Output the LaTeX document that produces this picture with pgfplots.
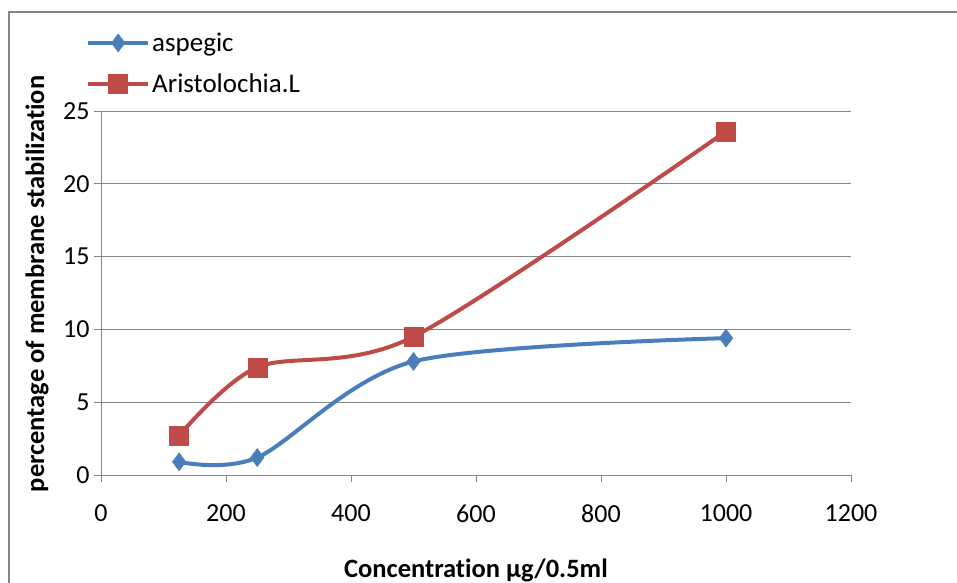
\documentclass[border=0pt]{standalone}
\usepackage{pgfplots}
\pgfplotsset{compat=1.18}
\usepackage{fontspec}
\setmainfont{Carlito}[Ligatures=NoCommon]
\definecolor{ablue}{HTML}{4A7EBB}
\definecolor{ared}{HTML}{BE4B48}
\definecolor{gridc}{HTML}{868686}
\begin{document}
\begin{tikzpicture}[x=1pt,y=1pt]
\useasboundingbox (0,0) rectangle (957,582);
\fill[white] (0,0) rectangle (957,582);
\draw[gridc, line width=1.2pt] (9,-20) -- (9,570) -- (1000,570);
\begin{axis}[
  at={(101pt,107pt)}, anchor=south west,
  scale only axis, width=750pt, height=364pt,
  xmin=0, xmax=1200, ymin=0, ymax=25,
  xtick={0,200,...,1200}, ytick={0,5,...,25},
  axis x line*=bottom, axis y line*=left,
  axis line style={gridc, line width=0.8pt},
  tick style={gridc, line width=0.8pt},
  tick align=outside, major tick length=7pt,
  ymajorgrids, grid style={gridc, line width=0.8pt},
  font=\fontsize{26}{31}\selectfont,
  /pgf/number format/assume math mode=true,
  /pgf/number format/1000 sep={},
  xticklabel style={yshift=-19pt},
  yticklabel style={xshift=-1pt},
  xlabel={\fontsize{26.5}{31}\selectfont\bfseries Concentration µg/0.5ml},
  ylabel={\fontsize{26.5}{31}\selectfont\bfseries percentage of membrane stabilization},
  xlabel style={at={(axis description cs:0.5,-0.261)}, anchor=center},
  ylabel style={at={(axis description cs:-0.0853,0.525)}, anchor=center, rotate=0},
  legend style={at={(axis description cs:-0.024,1.226)}, anchor=north west,
    draw=none, fill=none, row sep=17pt, font=\fontsize{27}{32}\selectfont},
  legend cell align=left,
  legend image code/.code={\draw[#1, mark repeat=2, mark phase=2] plot coordinates {(0pt,0pt) (30pt,0pt) (60pt,0pt)};},
  clip=false,
]
\addplot[ablue, line width=4pt, smooth, mark=diamond*, mark size=9pt, mark options={solid, line width=0.5pt}]
  coordinates {(125,0.9) (250,1.2) (500,7.8) (1000,9.4)};
\addlegendentry{aspegic}
\addplot[ared, line width=4pt, smooth, mark=square*, mark size=9.5pt, mark options={solid, line width=0.5pt}]
  coordinates {(125,2.7) (250,7.4) (500,9.5) (1000,23.6)};
\addlegendentry{Aristolochia.L}
\end{axis}
\end{tikzpicture}
\end{document}
